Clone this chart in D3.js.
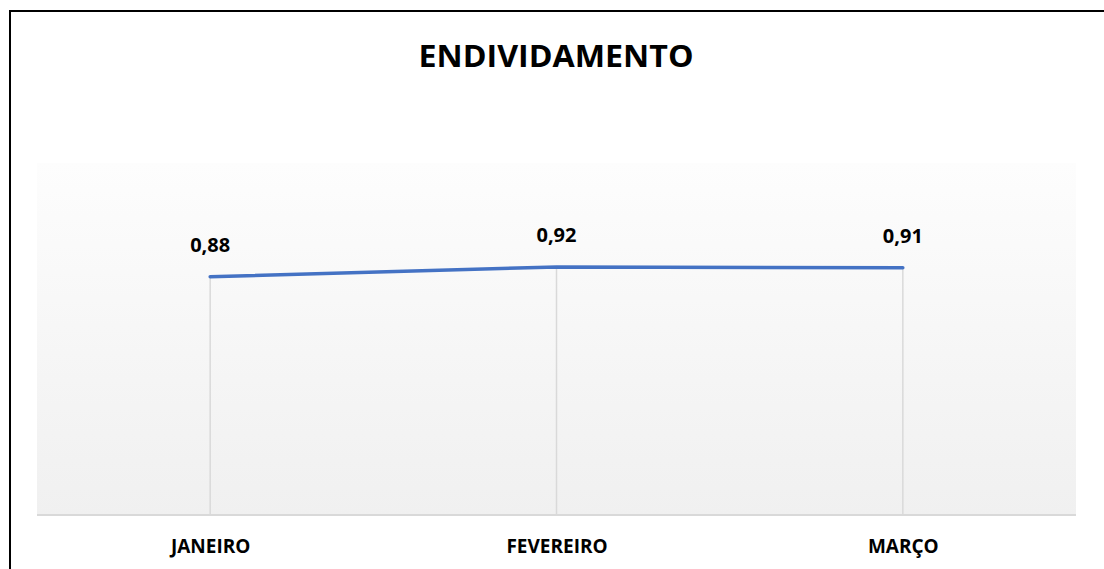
<!DOCTYPE html>
<html>
<head>
<meta charset="utf-8">
<script src="https://cdn.jsdelivr.net/npm/d3@7"></script>
<style>
  body { margin: 0; background: #fff; }
  svg { display: block; }
</style>
</head>
<body>
<svg id="mysvg" width="1104" height="569"></svg>
<script>
// data
var months = ["JANEIRO", "FEVEREIRO", "MARÇO"];
var values = [0.88, 0.916, 0.913];
var chartTitle = "ENDIVIDAMENTO";

var svg = d3.select("#mysvg");
var plot = { left: 37, right: 1076, top: 163, bottom: 515 };
var fontFam = "'Open Sans', 'DejaVu Sans', sans-serif";

// frame (only top and left visible in the crop)
svg.append("line").attr("x1", 9).attr("x2", 1104).attr("y1", 11).attr("y2", 11)
  .attr("stroke", "#000").attr("stroke-width", 2);
svg.append("line").attr("x1", 10).attr("x2", 10).attr("y1", 10).attr("y2", 569)
  .attr("stroke", "#000").attr("stroke-width", 2);

// plot area gradient
var grad = svg.append("defs").append("linearGradient")
  .attr("id", "bg").attr("x1", 0).attr("x2", 0).attr("y1", 0).attr("y2", 1);
grad.append("stop").attr("offset", "0%").attr("stop-color", "#fdfdfd");
grad.append("stop").attr("offset", "100%").attr("stop-color", "#f0f0f0");

svg.append("rect")
  .attr("x", plot.left).attr("y", plot.top)
  .attr("width", plot.right - plot.left).attr("height", plot.bottom - plot.top)
  .attr("fill", "url(#bg)");

var x = d3.scalePoint().domain(months).range([plot.left, plot.right]).padding(0.5);
var y = d3.scaleLinear().domain([0, 1.3]).range([plot.bottom, plot.top]);

// drop lines
svg.append("g").selectAll("line")
  .data(months)
  .enter().append("line")
  .attr("x1", function(d) { return x(d) })
  .attr("x2", function(d) { return x(d) })
  .attr("y1", function(d, i) { return y(values[i]) })
  .attr("y2", plot.bottom)
  .attr("stroke", "#d9d9d9")
  .attr("stroke-width", 1.5);

// x axis
var xAxis = svg.append("g")
  .attr("transform", "translate(0," + plot.bottom + ")")
  .call(d3.axisBottom(x).tickSize(0).tickPadding(27));
xAxis.select(".domain").attr("stroke", "#d9d9d9").attr("stroke-width", 2)
  .attr("d", "M" + plot.left + ",0H" + plot.right);
xAxis.selectAll("text")
  .attr("font-family", fontFam)
  .attr("font-weight", "bold")
  .attr("font-size", "19px")
  .attr("fill", "#000")
  .attr("dy", 0)
  .attr("y", 38);

// the line
var line = d3.line()
  .x(function(d, i) { return x(months[i]) })
  .y(function(d) { return y(d) });

svg.append("path")
  .datum(values)
  .attr("d", line)
  .attr("fill", "none")
  .attr("stroke", "#4472c4")
  .attr("stroke-width", 3.5)
  .attr("stroke-linecap", "round");

// data labels
var fmt = d3.format(".2f");
svg.append("g").selectAll("text")
  .data(values)
  .enter().append("text")
  .attr("x", function(d, i) { return x(months[i]) })
  .attr("y", function(d) { return y(d) - 25 })
  .attr("text-anchor", "middle")
  .attr("font-family", fontFam)
  .attr("font-weight", "bold")
  .attr("font-size", "20px")
  .text(function(d) { return fmt(d).replace(".", ",") });

// title
svg.append("text")
  .attr("x", 556)
  .attr("y", 67)
  .attr("text-anchor", "middle")
  .attr("font-family", fontFam)
  .attr("font-weight", "bold")
  .attr("font-size", "30px")
  .attr("textLength", 275)
  .attr("lengthAdjust", "spacingAndGlyphs")
  .text(chartTitle);
</script>
</body>
</html>
